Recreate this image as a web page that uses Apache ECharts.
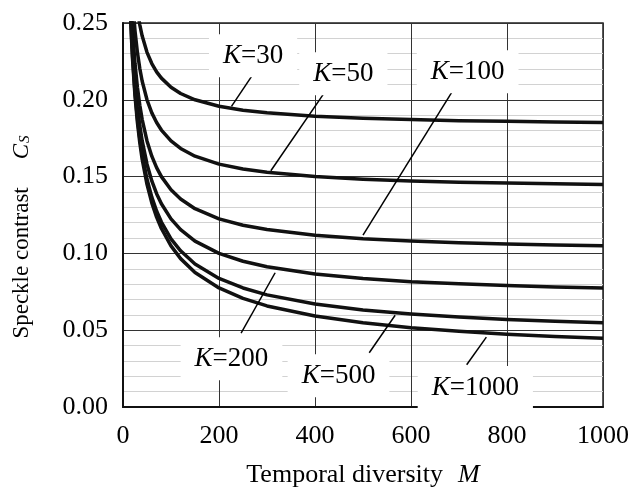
<!DOCTYPE html>
<html>
<head>
<meta charset="utf-8">
<script src="https://cdn.jsdelivr.net/npm/echarts@6/dist/echarts.min.js"></script>
<style>
  html, body { margin: 0; padding: 0; background: #fff; }
  #chart { width: 632px; height: 493px; }
</style>
</head>
<body>
<div id="chart"></div>
<script>
  // temporal diversity M (x values of every curve)
  const M = [15, 18, 20, 25, 30, 35, 40, 50, 60, 70, 80, 100, 120, 150, 200, 250, 300, 400, 500, 600, 700, 800, 900, 1000]

  // speckle contrast Cs
  const cK30 = [0.3162, 0.2981, 0.2887, 0.2708, 0.2582, 0.2488, 0.2415, 0.2309, 0.2236, 0.2182, 0.2141, 0.2082, 0.2041, 0.2000, 0.1958, 0.1932, 0.1915, 0.1893, 0.1880, 0.1871, 0.1864, 0.1860, 0.1856, 0.1853]
  const cK50 = [0.2944, 0.2749, 0.2646, 0.2449, 0.2309, 0.2204, 0.2121, 0.2000, 0.1915, 0.1852, 0.1803, 0.1732, 0.1683, 0.1633, 0.1581, 0.1549, 0.1528, 0.1500, 0.1483, 0.1472, 0.1464, 0.1458, 0.1453, 0.1449]
  const cK100 = [0.2769, 0.2560, 0.2449, 0.2236, 0.2082, 0.1964, 0.1871, 0.1732, 0.1633, 0.1558, 0.1500, 0.1414, 0.1354, 0.1291, 0.1225, 0.1183, 0.1155, 0.1118, 0.1095, 0.1080, 0.1069, 0.1061, 0.1054, 0.1049]
  const cK200 = [0.2677, 0.2461, 0.2345, 0.2121, 0.1958, 0.1832, 0.1732, 0.1581, 0.1472, 0.1389, 0.1323, 0.1225, 0.1155, 0.1080, 0.1000, 0.0949, 0.0913, 0.0866, 0.0837, 0.0816, 0.0802, 0.0791, 0.0782, 0.0775]
  const cK500 = [0.2620, 0.2399, 0.2280, 0.2049, 0.1880, 0.1748, 0.1643, 0.1483, 0.1366, 0.1276, 0.1204, 0.1095, 0.1017, 0.0931, 0.0837, 0.0775, 0.0730, 0.0671, 0.0632, 0.0606, 0.0586, 0.0570, 0.0558, 0.0548]
  const cK1000 = [0.2601, 0.2378, 0.2258, 0.2025, 0.1853, 0.1720, 0.1612, 0.1449, 0.1329, 0.1236, 0.1162, 0.1049, 0.0966, 0.0876, 0.0775, 0.0707, 0.0658, 0.0592, 0.0548, 0.0516, 0.0493, 0.0474, 0.0459, 0.0447]

  const kValues = [30, 50, 100, 200, 500, 1000]
  const curves = [cK30, cK50, cK100, cK200, cK500, cK1000]

  // annotation positions in data units (label centre, leader start, leader end)
  const labelAt = [[271, 0.2286], [459, 0.2169], [718, 0.2182], [226, 0.0314], [449, 0.0204], [734, 0.0127]]
  const leaderFrom = [[277, 0.2195], [424, 0.2066], [691, 0.2079], [246, 0.0481], [513, 0.0353], [716, 0.0275]]
  const leaderTo = [[226, 0.1957], [308, 0.1538], [500, 0.1119], [317, 0.0874], [567, 0.0597], [757, 0.0455]]

  const serif = 'Liberation Serif'
  const chart = echarts.init(document.getElementById('chart'))

  const series = curves.map((c, i) => ({
    name: 'K=' + kValues[i],
    type: 'line',
    data: M.map((m, j) => [m, c[j]]),
    showSymbol: false,
    smooth: false,
    lineStyle: { color: '#111', width: 3.5, join: 'round' },
    markPoint: {
      symbol: 'rect',
      symbolSize: 1,
      itemStyle: { color: 'rgba(0,0,0,0)' },
      label: {
        show: true,
        position: 'inside',
        formatter: '{k|K}{t|=' + kValues[i] + '}',
        backgroundColor: '#fff',
        padding: [8, 14],
        rich: {
          k: { fontFamily: serif, fontStyle: 'italic', fontSize: 27, color: '#000' },
          t: { fontFamily: serif, fontSize: 27, color: '#000' }
        }
      },
      data: [{ coord: labelAt[i] }]
    },
    markLine: {
      silent: true,
      symbol: 'none',
      label: { show: false },
      lineStyle: { color: '#000', width: 1.5, type: 'solid' },
      data: [[{ coord: leaderFrom[i] }, { coord: leaderTo[i] }]]
    }
  }))

  chart.setOption({
    animation: false,
    grid: {
      left: 123,
      right: 25,
      top: 23,
      bottom: 82,
      show: true,
      borderColor: '#222',
      borderWidth: 1.5
    },
    xAxis: {
      type: 'value',
      min: 0,
      max: 1000,
      interval: 200,
      name: '{n|Temporal diversity  }{i|M}',
      nameLocation: 'middle',
      nameGap: 55,
      nameTextStyle: {
        rich: {
          n: { fontFamily: serif, fontSize: 26, color: '#000' },
          i: { fontFamily: serif, fontSize: 26, fontStyle: 'italic', color: '#000', padding: [0, 0, 0, 2] }
        }
      },
      axisLine: { show: true, lineStyle: { color: '#111', width: 2 } },
      axisTick: { show: false },
      axisLabel: {
        fontFamily: serif, fontSize: 26, color: '#000', margin: 16,
        formatter: v => String(v)
      },
      splitLine: { show: true, lineStyle: { color: '#333', width: 1 } }
    },
    yAxis: {
      type: 'value',
      min: 0,
      max: 0.25,
      interval: 0.05,
      name: '{n|Speckle contrast}{i|C}{s|S}',
      nameLocation: 'middle',
      nameGap: 90,
      nameTextStyle: {
        padding: [0, 44, 0, 0],
        rich: {
          n: { fontFamily: serif, fontSize: 23, color: '#000' },
          i: { fontFamily: serif, fontSize: 23, fontStyle: 'italic', color: '#000', padding: [0, 0, 0, 28] },
          s: { fontFamily: serif, fontSize: 15, fontStyle: 'italic', color: '#000', verticalAlign: 'bottom', padding: [8, 0, 0, 1] }
        }
      },
      axisLine: { show: true, lineStyle: { color: '#111', width: 2 } },
      axisTick: { show: false },
      axisLabel: {
        fontFamily: serif, fontSize: 26, color: '#000', margin: 15,
        formatter: v => v.toFixed(2)
      },
      splitLine: { show: true, lineStyle: { color: '#333', width: 1 } },
      minorTick: { show: false, splitNumber: 5 },
      minorSplitLine: { show: true, lineStyle: { color: '#d2d2d2', width: 1 } }
    },
    series: series
  })
</script>
</body>
</html>
